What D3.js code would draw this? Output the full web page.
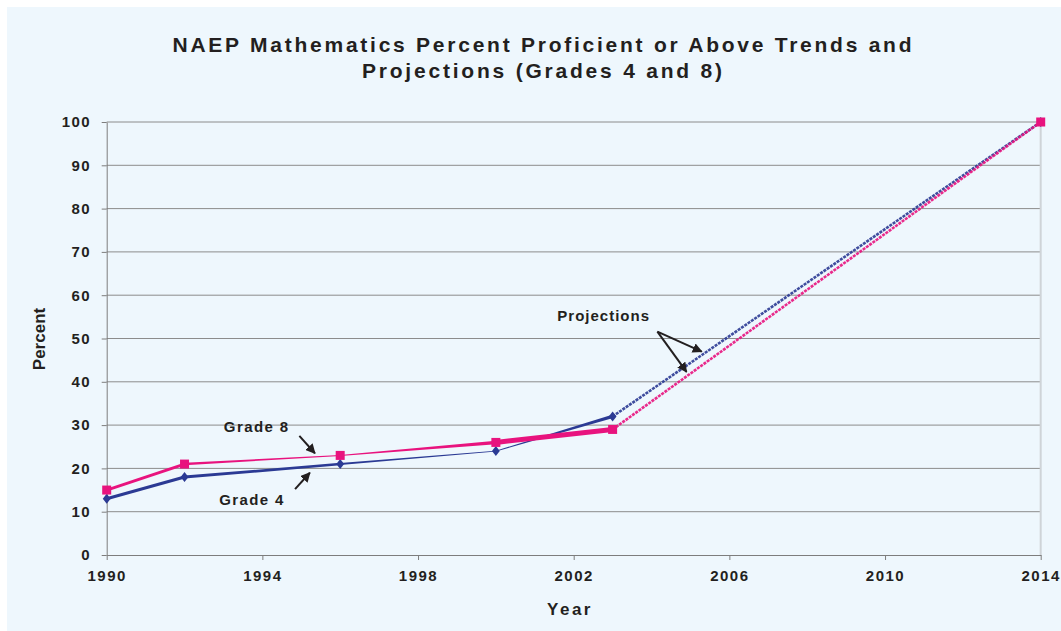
<!DOCTYPE html>
<html>
<head>
<meta charset="utf-8">
<script src="https://cdn.jsdelivr.net/npm/d3@7"></script>
<style>
  body { margin: 0; background: #ffffff; }
  text { font-family: "Liberation Sans", Arial, sans-serif; fill: #231f20; font-weight: bold; }
</style>
</head>
<body>
<script>
// data
var years       = [1990, 1992, 1996, 2000, 2003];
var grade4      = [13, 18, 21, 24, 32];
var grade8      = [15, 21, 23, 26, 29];
var projYears   = [2003, 2014];
var grade4Proj  = [32, 100];
var grade8Proj  = [29, 100];
var xTicks      = [1990, 1994, 1998, 2002, 2006, 2010, 2014];
var yTicks      = [0, 10, 20, 30, 40, 50, 60, 70, 80, 90, 100];
var titleLines  = ["NAEP Mathematics Percent Proficient or Above Trends and",
                   "Projections (Grades 4 and 8)"];

var width  = 1061;
var height = 631;
var margin = {top: 122, right: 20.3, bottom: 76, left: 106.7};

var pink = "#e8137e";
var blue = "#2b3a94";

// stroke widths at start/end of each segment (the original has tapered lines)
var g4Widths = [[3, 3], [3, 2.4], [2, 0.8], [0.8, 3.5]];
var g8Widths = [[3, 3], [2.4, 1], [1, 3.5], [5, 5]];
var titleWidths = [739, 360];

var x = d3.scaleLinear()
          .domain([1990, 2014])
          .range([margin.left, width - margin.right]);

var y = d3.scaleLinear()
          .domain([0, 100])
          .range([height - margin.bottom, margin.top]);

var svg = d3.select("body")
            .append("svg")
            .attr("width", width)
            .attr("height", height);

// pale blue chart background
svg.append("rect")
   .attr("x", 7)
   .attr("y", 7)
   .attr("width", width - 7)
   .attr("height", height - 7)
   .style("fill", "#eef7fd");

// title
svg.selectAll(".title")
   .data(titleLines)
   .enter()
   .append("text")
   .attr("class", "title")
   .attr("x", 542)
   .attr("y", function(d, i) { return 52 + i * 26; })
   .attr("text-anchor", "middle")
   .attr("textLength", function(d, i) { return titleWidths[i]; })
   .attr("lengthAdjust", "spacing")
   .style("font-size", "21px")
   .text(function(d) { return d; });

// gridlines
svg.append("g")
   .selectAll("line")
   .data(yTicks.slice(1))
   .enter()
   .append("line")
   .attr("x1", margin.left)
   .attr("x2", width - margin.right)
   .attr("y1", function(d) { return y(d); })
   .attr("y2", function(d) { return y(d); })
   .style("stroke", "#8c8c8c")
   .style("stroke-width", 1);

// right edge of plot
svg.append("line")
   .attr("x1", x(2014)).attr("x2", x(2014))
   .attr("y1", y(100)).attr("y2", y(0))
   .style("stroke", "#cfd4d8")
   .style("stroke-width", 2);

// axes
var xAxis = d3.axisBottom(x).tickValues(xTicks).tickFormat(d3.format("d")).tickSizeInner(5).tickSizeOuter(0).tickPadding(10);
var yAxis = d3.axisLeft(y).tickValues(yTicks).tickSizeInner(5).tickSizeOuter(0).tickPadding(12);

var gx = svg.append("g")
            .attr("transform", "translate(0," + y(0) + ")")
            .call(xAxis);
var gy = svg.append("g")
            .attr("transform", "translate(" + margin.left + ",0)")
            .call(yAxis);

[gx, gy].forEach(function(g) {
  g.selectAll("path, line").style("stroke", "#7d7d7d");
  g.selectAll("text")
   .style("font-size", "15px")
   .style("font-family", "'Liberation Sans', Arial, sans-serif")
   .style("font-weight", "bold")
   .style("letter-spacing", "1.5px")
   .style("fill", "#231f20");
});
gy.selectAll("text").attr("dx", "1.5px");

// axis titles
svg.append("text")
   .attr("x", 570)
   .attr("y", 615)
   .attr("text-anchor", "middle")
   .style("font-size", "17px")
   .style("letter-spacing", "2.5px")
   .text("Year");

svg.append("text")
   .attr("transform", "translate(45,339) rotate(-90)")
   .attr("text-anchor", "middle")
   .style("font-size", "17px")
   .text("Percent");

// projection lines (rough dotted look)
function drawProjection(vals, color) {
  var pts = projYears.map(function(d, i) { return [x(d), y(vals[i])]; });
  svg.append("path")
     .attr("d", d3.line()(pts))
     .style("fill", "none")
     .style("stroke", color)
     .style("stroke-width", 2.6)
     .style("stroke-dasharray", "3,1")
     .style("opacity", 0.9);
}
drawProjection(grade4Proj, blue);
drawProjection(grade8Proj, pink);

// tapered trend segments
function drawTrend(vals, widths, color) {
  var pts = years.map(function(d, i) { return [x(d), y(vals[i])]; });
  for (var i = 0; i < pts.length - 1; i++) {
    var a = pts[i], b = pts[i + 1];
    var dx = b[0] - a[0], dy = b[1] - a[1];
    var len = Math.sqrt(dx * dx + dy * dy);
    var nx = -dy / len, ny = dx / len;
    var w0 = widths[i][0] / 2, w1 = widths[i][1] / 2;
    var poly = [
      [a[0] + nx * w0, a[1] + ny * w0],
      [b[0] + nx * w1, b[1] + ny * w1],
      [b[0] - nx * w1, b[1] - ny * w1],
      [a[0] - nx * w0, a[1] - ny * w0]
    ];
    svg.append("polygon")
       .attr("points", poly.map(function(p) { return p.join(","); }).join(" "))
       .style("fill", color);
  }
}
drawTrend(grade4, g4Widths, blue);
drawTrend(grade8, g8Widths, pink);

// markers
var diamond = d3.symbol().type(d3.symbolDiamond).size(40);
svg.selectAll(".g4mark")
   .data(years.map(function(d, i) { return [d, grade4[i]]; }).concat([[projYears[1], grade4Proj[1]]]))
   .enter()
   .append("path")
   .attr("class", "g4mark")
   .attr("d", diamond)
   .attr("transform", function(d) { return "translate(" + x(d[0]) + "," + y(d[1]) + ") scale(1.15,0.85)"; })
   .style("fill", blue);

svg.selectAll(".g8mark")
   .data(years.map(function(d, i) { return [d, grade8[i]]; }).concat([[projYears[1], grade8Proj[1]]]))
   .enter()
   .append("rect")
   .attr("class", "g8mark")
   .attr("x", function(d) { return x(d[0]) - 4.5; })
   .attr("y", function(d) { return y(d[1]) - 4.5; })
   .attr("width", 9)
   .attr("height", 9)
   .style("fill", pink);

// annotations, positioned in data units
var labels = [
  {text: "Grade 8",     year: 1993.01, pct: 28.5, spacing: 1.4},
  {text: "Grade 4",     year: 1992.89, pct: 11.5, spacing: 1.4},
  {text: "Projections", year: 2001.58, pct: 54.0, spacing: 1.0}
];
var arrows = [
  {from: [1994.95, 27.5], to: [1995.35, 23.5]},
  {from: [1994.84, 15.2], to: [1995.22, 19.0]},
  {from: [2004.15, 51.6], to: [2005.29, 46.95]},
  {from: [2004.15, 51.6], to: [2004.90, 42.3]}
];

svg.selectAll(".note")
   .data(labels)
   .enter()
   .append("text")
   .attr("class", "note")
   .attr("x", function(d) { return x(d.year); })
   .attr("y", function(d) { return y(d.pct); })
   .style("font-size", "15px")
   .style("letter-spacing", function(d) { return d.spacing + "px"; })
   .text(function(d) { return d.text; });

svg.append("defs")
   .append("marker")
   .attr("id", "head")
   .attr("viewBox", "0 0 10 10")
   .attr("refX", 9)
   .attr("refY", 5)
   .attr("markerWidth", 5)
   .attr("markerHeight", 5)
   .attr("orient", "auto")
   .append("path")
   .attr("d", "M0,0 L10,5 L0,10 z")
   .style("fill", "#231f20");

svg.selectAll(".arrow")
   .data(arrows)
   .enter()
   .append("line")
   .attr("class", "arrow")
   .attr("x1", function(d) { return x(d.from[0]); })
   .attr("y1", function(d) { return y(d.from[1]); })
   .attr("x2", function(d) { return x(d.to[0]); })
   .attr("y2", function(d) { return y(d.to[1]); })
   .attr("marker-end", "url(#head)")
   .style("stroke", "#231f20")
   .style("stroke-width", 2);
</script>
</body>
</html>
